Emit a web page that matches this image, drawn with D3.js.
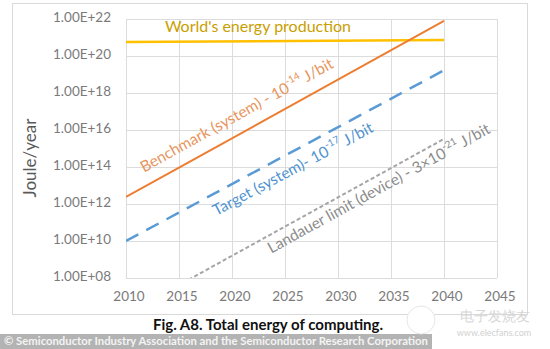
<!DOCTYPE html>
<html>
<head>
<meta charset="utf-8">
<script src="https://cdn.jsdelivr.net/npm/d3@7"></script>
<style>
  body { margin: 0; background: #fff; }
  text { font-family: Lato, "Open Sans", sans-serif; }
</style>
</head>
<body>
<svg id="chart" width="550" height="349"></svg>
<script>
// data (J/year)
const years = [2010, 2040];
const worldEnergy = [5.7e20, 7.3e20];
const benchmark = [2.4e12, 7.8e21];
const target = [1.0e10, 1.7e19];
const landauer = [1.1e6, 3.3e15];

const yTicks = [1e8, 1e10, 1e12, 1e14, 1e16, 1e18, 1e20, 1e22];
const xTicks = [2010, 2015, 2020, 2025, 2030, 2035, 2040, 2045];

const svg = d3.select("#chart");
const margin = { left: 126, right: 53, top: 19, bottom: 71 };
const W = 550, H = 349;

const x = d3.scaleLinear().domain([2010, 2045]).range([margin.left, W - margin.right]);
const y = d3.scaleLog().domain([1e8, 1e22]).range([H - margin.bottom, margin.top]);

// outer frame
svg.append("rect")
  .attr("x", 12.5).attr("y", 3.5)
  .attr("width", 515).attr("height", 311)
  .attr("fill", "none").attr("stroke", "#d9d9d9");

// gridlines
svg.append("g").selectAll("line").data(yTicks).join("line")
  .attr("x1", x(2010)).attr("x2", x(2045))
  .attr("y1", d => Math.round(y(d)) + 0.5).attr("y2", d => Math.round(y(d)) + 0.5)
  .attr("stroke", "#dcdcdc");
svg.append("g").selectAll("line").data(xTicks).join("line")
  .attr("y1", y(1e8)).attr("y2", y(1e22))
  .attr("x1", d => Math.round(x(d)) + 0.5).attr("x2", d => Math.round(x(d)) + 0.5)
  .attr("stroke", "#dcdcdc");

// axes labels
const fmt = d => "1.00E+" + String(Math.round(Math.log10(d))).padStart(2, "0");
svg.append("g").selectAll("text").data(yTicks).join("text")
  .attr("x", 111).attr("y", d => y(d))
  .attr("text-anchor", "end").attr("dominant-baseline", "middle")
  .attr("font-size", 13.5).attr("fill", "#7a7a7a")
  .text(fmt);
svg.append("g").selectAll("text").data(xTicks).join("text")
  .attr("x", d => x(d) + 3).attr("y", 298)
  .attr("text-anchor", "middle").attr("dominant-baseline", "middle")
  .attr("font-size", 13.5).attr("fill", "#7a7a7a")
  .text(d => d);

svg.append("text")
  .attr("transform", "translate(32,158) rotate(-90)")
  .attr("text-anchor", "middle").attr("dominant-baseline", "middle")
  .attr("font-size", 17).attr("fill", "#595959")
  .text("Joule/year");

// clip the lines to the plot area
svg.append("clipPath").attr("id", "plot")
  .append("rect")
  .attr("x", x(2010)).attr("y", y(1e22))
  .attr("width", x(2045) - x(2010)).attr("height", y(1e8) - y(1e22));

const line = d3.line().x(d => x(d[0])).y(d => y(d[1]));
const series = [
  { vals: worldEnergy, color: "#FFC000", width: 2.5, dash: null },
  { vals: benchmark, color: "#ED7D31", width: 2, dash: null },
  { vals: target, color: "#5B9BD5", width: 2.5, dash: "14,9" },
  { vals: landauer, color: "#A5A5A5", width: 2, dash: "4,2.5" }
];
const lines = svg.append("g").attr("clip-path", "url(#plot)");
series.forEach(s => {
  lines.append("path")
    .datum(years.map((yr, i) => [yr, s.vals[i]]))
    .attr("d", line)
    .attr("fill", "none")
    .attr("stroke", s.color)
    .attr("stroke-width", s.width)
    .attr("stroke-dasharray", s.dash);
});

// series labels
svg.append("text")
  .attr("x", 258).attr("y", y(worldEnergy[0]) - 10)
  .attr("text-anchor", "middle")
  .attr("font-size", 16).attr("fill", "#C9A000")
  .text("World's energy production");

function slopeLabel(vals, year, offset, color, main, sup, tail) {
  const px = x(year);
  const t = (year - years[0]) / (years[1] - years[0]);
  const lv = Math.log10(vals[0]) + t * (Math.log10(vals[1]) - Math.log10(vals[0]));
  const py = y(Math.pow(10, lv)) + offset;
  const angle = Math.atan2(y(vals[1]) - y(vals[0]), x(years[1]) - x(years[0])) * 180 / Math.PI;
  const txt = svg.append("text")
    .attr("transform", `translate(${px},${py}) rotate(${angle})`)
    .attr("text-anchor", "middle").attr("dominant-baseline", "middle")
    .attr("font-size", 15.5).attr("fill", color);
  txt.append("tspan").text(main);
  txt.append("tspan").attr("font-size", 10).attr("dy", -6).text(sup);
  txt.append("tspan").attr("dy", 6).text(tail);
}
slopeLabel(benchmark, 2020.5, -19, "#E8955C", "Benchmark (system) - 10", "-14", " J/bit");
slopeLabel(target, 2025.8, 19, "#4F93CF", "Target (system)- 10", "-17", " J/bit");
slopeLabel(landauer, 2033.9, 15, "#8C8C8C", "Landauer limit (device) - 3×10", "-21", " J/bit");

// caption
svg.append("text")
  .attr("x", 268).attr("y", 326)
  .attr("text-anchor", "middle").attr("dominant-baseline", "middle")
  .attr("font-size", 15).attr("font-weight", "bold").attr("fill", "#111")
  .text("Fig. A8. Total energy of computing.");

// credit bar
svg.append("rect")
  .attr("x", 0).attr("y", 334).attr("width", 432).attr("height", 15)
  .attr("fill", "#b3b3b3");
svg.append("text")
  .attr("x", 4).attr("y", 342)
  .attr("dominant-baseline", "middle")
  .attr("font-size", 12).attr("font-weight", "bold").attr("fill", "#f4f4f4")
  .attr("textLength", 424).attr("lengthAdjust", "spacingAndGlyphs")
  .text("© Semiconductor Industry Association and the Semiconductor Research Corporation");

// watermark
svg.append("circle")
  .attr("cx", 421).attr("cy", 320).attr("r", 14)
  .attr("fill", "#fff").attr("stroke", "#e6e6e6");
svg.append("text")
  .attr("x", 495).attr("y", 317)
  .attr("text-anchor", "middle").attr("dominant-baseline", "middle")
  .attr("font-family", "Noto Sans CJK SC").attr("font-size", 14)
  .attr("fill", "#d6d6d6")
  .text("电子发烧友");
svg.append("text")
  .attr("x", 494).attr("y", 334)
  .attr("text-anchor", "middle").attr("dominant-baseline", "middle")
  .attr("font-size", 9).attr("fill", "#d0d0d0")
  .text("www.elecfans.com");
</script>
</body>
</html>
